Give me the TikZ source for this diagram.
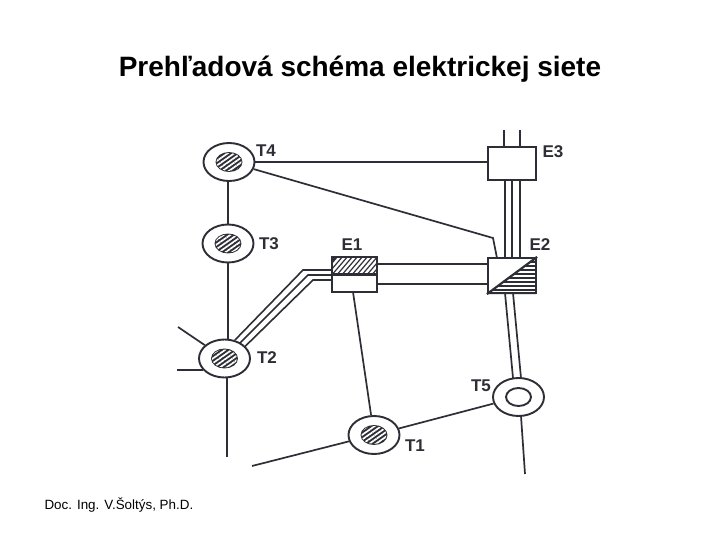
\documentclass[tikz,border=0pt]{standalone}
\usepackage{fontspec}
\setmainfont{Liberation Sans}
\usetikzlibrary{patterns.meta,shapes.geometric,calc}
\definecolor{ink}{HTML}{2E2E36}
\tikzset{
  x=1pt,y=-1pt,
  wire/.style={draw=ink,line width=1.7pt},
  feeder/.style={draw=ink,line width=1.6pt},
  stripe/.style={draw=white,line width=2.3pt},
  outer/.style={ellipse,draw=ink,line width=1.9pt,fill=white,minimum width=51pt,minimum height=38pt,inner sep=0pt},
  core/.style={ellipse,draw=ink,line width=1.9pt,minimum width=25pt,minimum height=18pt,inner sep=0pt},
  hatched/.style={core,fill=ink,postaction={pattern={Lines[angle=35,distance=3.8pt,line width=1.7pt]},pattern color=white}},
  box/.style={draw=ink,line width=2.2pt,fill=white,inner sep=0pt},
  lab/.style={font=\bfseries\fontsize{17}{17}\selectfont,text=ink,inner sep=0pt},
}
\begin{document}
\begin{tikzpicture}
\useasboundingbox (0,0) rectangle (720,540);
\fill[white] (0,0) rectangle (720,540);
\node[font=\fontsize{28}{30}\selectfont\bfseries,text=black] (title) at (360,69.5) {Prehľadová schéma elektrickej siete};
\node[font=\fontsize{13.4}{14}\selectfont,text=black,anchor=west] (foot) at (41,505) {Doc. Ing. V.Šoltýs, Ph.D.};

% stations
\node[outer] (T4) at (229,162) {}; \node[hatched] (T4i) at (T4) {};
\node[outer] (T3) at (228,243.5) {}; \node[hatched] (T3i) at (T3) {};
\node[outer] (T2) at (224.5,358.5) {}; \node[hatched] (T2i) at (T2) {};
\node[outer] (T1) at (374,435) {}; \node[hatched] (T1i) at (T1) {};
\node[outer] (T5) at (518.5,397) {}; \node[core,fill=white] (T5i) at (T5) {};

% boxes
\node[box,minimum width=48pt,minimum height=33pt] (E3) at (512,163.5) {};
\node[box,minimum width=48pt,minimum height=35pt] (E2) at (512,275.5) {};
\begin{scope}
  \clip (E2.south west) -- (E2.north east) -- (E2.south east) -- cycle;
  \foreach \yy in {262,266,...,294} \draw[draw=ink,line width=2pt] (488,\yy) -- (536,\yy);
\end{scope}
\draw[draw=ink,line width=2.2pt] (E2.south west) -- (E2.north east);
\node[box,fill=none,minimum width=48pt,minimum height=35pt] (E2f) at (E2) {};
\node[box,minimum width=45pt,minimum height=35pt] (E1) at (354.5,274.5) {};
\begin{scope}
  \clip (E1.north west) rectangle (E1.east);
  \fill[ink] (E1.north west) rectangle (E1.east);
  \foreach \xx in {320,325,...,380} \draw[stripe] (\xx,280) -- (\xx+24,252);
\end{scope}
\draw[draw=ink,line width=2.2pt] (E1.west) -- (E1.east);
\node[box,fill=none,minimum width=45pt,minimum height=35pt] (E1f) at (E1) {};

% free ends
\coordinate (a1) at (178,327); \coordinate (a2) at (177,370); \coordinate (a3) at (227,457);
\coordinate (a4) at (252,466); \coordinate (a5) at (525,474);
\coordinate (a6) at (504,130); \coordinate (a7) at (520,130);
\coordinate (bend) at (493,238);

% connectors
\draw[wire] (228,181) -- (T3.north);
\draw[wire] (T3.south) -- (T3 |- T2.north);
\draw[wire] (a1) -- (T2);
\draw[wire] (a2) -- (203,370);
\draw[wire] (a3 |- T2.south) -- (a3);
\draw[wire] (a4) -- (T1);
\draw[wire] (T1) -- (T5);
\draw[wire] (521,416) -- (a5);
\draw[wire] (T4) -- (T4 -| E3.west);
\draw[wire] (T4) -- (bend) -- (497,258);
\draw[wire] (a6) -- (a6 |- E3.north);
\draw[wire] (a7) -- (a7 |- E3.north);
\draw[wire] (505,180) -- (505,258);
\draw[wire] (512,180) -- (512,258);
\draw[wire] (520,180) -- (520,258);
\draw[wire] (E1.east |- 0,264) -- (E2.west |- 0,264);
\draw[wire] (E1.east |- 0,284) -- (E2.west |- 0,284);
\draw[wire] (353,292) -- (T1);
% three-line feeder
\draw[feeder] (235,340) -- (303,270) -- (332,270);
\draw[feeder] (240,343) -- (308,275) -- (332,275);
\draw[feeder] (245,346.5) -- (313,280) -- (332,280);
% E2-T5 double line
\draw[wire] (505,293) -- (513,378);
\draw[wire] (513,293) -- (521,378);

% labels
\node[lab] (lT4) at (266,151) {T4};
\node[lab] (lT3) at (269,244) {T3};
\node[lab] (lT2) at (267,358) {T2};
\node[lab] (lT1) at (415,446) {T1};
\node[lab] (lT5) at (481,386) {T5};
\node[lab] (lE1) at (352,245) {E1};
\node[lab] (lE2) at (540,245) {E2};
\node[lab] (lE3) at (553,152) {E3};
\end{tikzpicture}
\end{document}
